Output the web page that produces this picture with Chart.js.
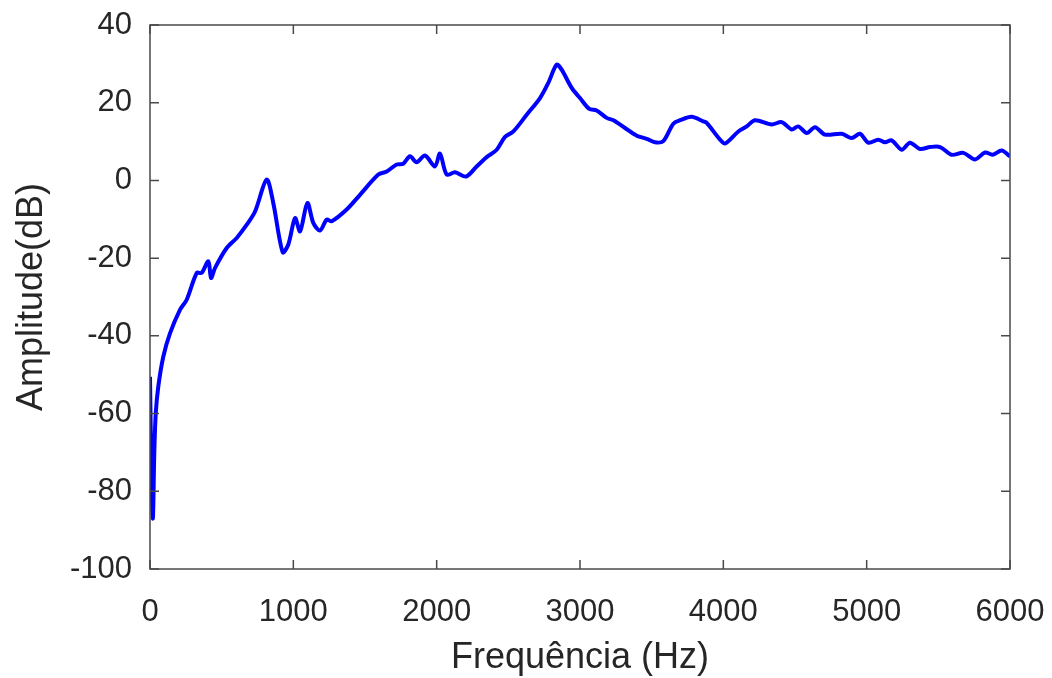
<!DOCTYPE html>
<html lang="pt">
<head>
    <meta charset="UTF-8">
    <title>Amplitude x Frequência</title>
    <script src="https://cdn.jsdelivr.net/npm/chart.js"></script>
    <style>
        html, body { margin: 0; padding: 0; background: #fff; }
    </style>
</head>
<body>
    <canvas id="myChart" width="1052" height="678"></canvas>
    <script>
        // frequencias (Hz) e amplitudes (dB)
        const freqHz = [0, 10, 20, 30, 40, 58, 93, 140, 209, 256, 326, 360, 407, 426, 454,
            535, 605, 675, 733, 814, 860, 926, 965, 1012, 1047, 1098, 1140, 1186, 1233, 1268,
            1372, 1465, 1593, 1651, 1721, 1767, 1814, 1860, 1919, 1988, 2023, 2070, 2128, 2205,
            2279, 2349, 2419, 2477, 2535, 2628, 2721, 2779, 2837, 2872, 2942, 3000, 3065, 3116,
            3186, 3233, 3314, 3396, 3466, 3523, 3581, 3651, 3698, 3779, 3860, 3884, 3977, 4012,
            4105, 4163, 4221, 4337, 4407, 4477, 4523, 4582, 4640, 4709, 4826, 4896, 4953, 5012,
            5081, 5128, 5174, 5245, 5302, 5372, 5442, 5512, 5593, 5674, 5756, 5826, 5879, 5942, 6000];
        const amplitudeDb = [-50.5, -75, -87, -70, -60, -53, -45.3, -39.3, -33.3, -30.7, -23.8, -23.8, -20.8, -25.1, -22.5,
            -17.4, -14.8, -11.4, -8.0, 0.2, -5.8, -18.5, -16.5, -9.7, -13.1, -5.8, -11.0, -12.9, -10.1, -10.5,
            -7.5, -3.7, 1.5, 2.3, 4.1, 4.3, 6.2, 4.7, 6.4, 3.6, 6.9, 1.5, 2.1, 1.0,
            3.6, 6.0, 7.9, 11.2, 12.6, 16.9, 21.2, 25.1, 29.8, 28.5, 23.8, 21.2, 18.4, 18.0,
            16.1, 15.5, 13.5, 11.5, 10.7, 9.8, 10.1, 14.6, 15.5, 16.4, 15.2, 14.8, 10.5, 9.5,
            12.6, 13.9, 15.5, 14.4, 15.0, 13.1, 13.9, 12.2, 13.7, 11.8, 12.0, 10.9, 12.0, 9.7,
            10.5, 9.8, 10.3, 7.9, 9.7, 8.1, 8.6, 8.6, 6.6, 7.1, 5.4, 7.2, 6.6, 7.7, 6.2];

        const xTicks = [0, 1000, 2000, 3000, 4000, 5000, 6000];
        const yTicks = [-100, -80, -60, -40, -20, 0, 20, 40];

        const textColor = '#262626';
        const fontFamily = "'Liberation Sans', Arial, sans-serif";

        // caixa e marcas de escala para dentro (estilo MATLAB)
        const boxPlugin = {
            id: 'boxPlugin',
            afterDraw(chart) {
                const ctx = chart.ctx;
                const a = chart.chartArea;
                const xs = chart.scales.x, ys = chart.scales.y;
                const len = 9;
                ctx.save();
                ctx.strokeStyle = '#4a4a4a';
                ctx.lineWidth = 1.5;
                ctx.strokeRect(a.left, a.top, a.right - a.left, a.bottom - a.top);
                ctx.beginPath();
                xTicks.forEach(v => {
                    const px = xs.getPixelForValue(v);
                    ctx.moveTo(px, a.bottom); ctx.lineTo(px, a.bottom - len);
                    ctx.moveTo(px, a.top); ctx.lineTo(px, a.top + len);
                });
                yTicks.forEach(v => {
                    const py = ys.getPixelForValue(v);
                    ctx.moveTo(a.left, py); ctx.lineTo(a.left + len, py);
                    ctx.moveTo(a.right, py); ctx.lineTo(a.right - len, py);
                });
                ctx.stroke();
                ctx.restore();
            }
        };

        const ctx = document.getElementById('myChart').getContext('2d');
        new Chart(ctx, {
            type: 'line',
            data: {
                datasets: [{
                    label: 'Amplitude',
                    data: freqHz.map((f, i) => ({ x: f, y: amplitudeDb[i] })),
                    borderColor: '#0000ff',
                    borderWidth: 4,
                    pointRadius: 0,
                    tension: 0.3,
                    fill: false
                }]
            },
            options: {
                responsive: false,
                animation: false,
                devicePixelRatio: 1,
                layout: { padding: { left: 0, top: 25, right: 42, bottom: 0 } },
                plugins: { legend: { display: false }, tooltip: { enabled: false } },
                scales: {
                    x: {
                        type: 'linear',
                        min: 0,
                        max: 6000,
                        afterBuildTicks: s => { s.ticks = xTicks.map(v => ({ value: v })); },
                        afterFit: s => { s.height = 109; s.paddingLeft = 0; s.paddingRight = 0; },
                        grid: { display: false },
                        border: { display: false },
                        ticks: {
                            padding: 17,
                            maxRotation: 0,
                            autoSkip: false,
                            color: textColor,
                            font: { family: fontFamily, size: 31 },
                            callback: v => String(v)
                        },
                        title: {
                            display: true,
                            text: 'Frequência (Hz)',
                            color: textColor,
                            font: { family: fontFamily, size: 36, lineHeight: 1.1 },
                            padding: { top: 0, bottom: 0 }
                        }
                    },
                    y: {
                        min: -100,
                        max: 40,
                        afterBuildTicks: s => { s.ticks = yTicks.map(v => ({ value: v })); },
                        afterFit: s => { s.width = 150; s.paddingTop = 0; s.paddingBottom = 0; },
                        grid: { display: false },
                        border: { display: false },
                        ticks: {
                            padding: 10,
                            autoSkip: false,
                            color: textColor,
                            font: { family: fontFamily, size: 31 },
                            callback: v => String(v)
                        },
                        title: {
                            display: true,
                            text: 'Amplitude(dB)',
                            color: textColor,
                            font: { family: fontFamily, size: 36 },
                            padding: { top: 10, bottom: 0 }
                        }
                    }
                }
            },
            plugins: [boxPlugin]
        });
    </script>
</body>
</html>
